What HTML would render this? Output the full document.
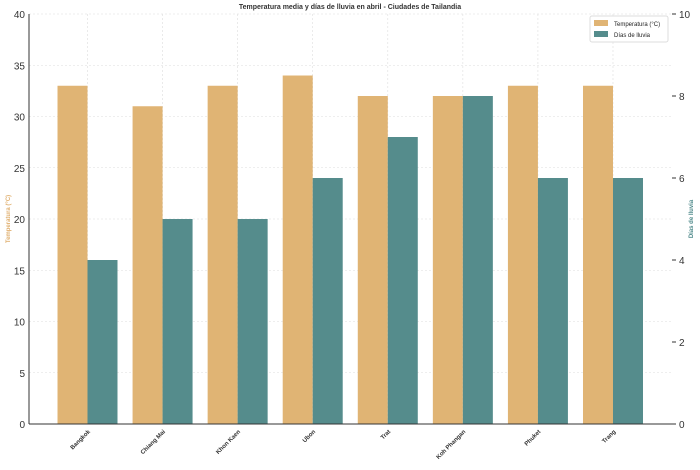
<!DOCTYPE html>
<html><head><meta charset="utf-8"><style>
body{margin:0;background:#fff}
svg text{font-family:"Liberation Sans",sans-serif}
</style></head><body>
<svg id="c" width="700" height="465">
<g id="grid"></g><g id="bars"></g><g id="axes"></g>
<text x="350" y="9" text-anchor="middle" font-size="7" font-weight="bold" fill="#333">Temperatura media y días de lluvia en abril - Ciudades de Tailandia</text>
<text transform="translate(10,219) rotate(-90)" text-anchor="middle" font-size="6" font-weight="bold" fill="#e0b070">Temperatura (°C)</text>
<text transform="translate(693,219) rotate(-90)" text-anchor="middle" font-size="6" font-weight="bold" fill="#4f8a8b">Días de lluvia</text>
<g>
<rect x="590" y="16" width="78" height="26" fill="#fff" stroke="#ddd" rx="2"/>
<rect x="594" y="20" width="14" height="6" fill="#e0b474"/>
<text x="614" y="26" font-size="6" fill="#222">Temperatura (°C)</text>
<rect x="594" y="31" width="14" height="6" fill="#558c8c"/>
<text x="614" y="37" font-size="6" fill="#222">Días de lluvia</text>
</g>
</svg>
<script>
const categories=["Bangkok","Chiang Mai","Khon Kaen","Ubon","Trat","Koh Phangan","Phuket","Trang"];
const temps=[33,31,33,34,32,32,33,33];
const rainDays=[4,5,5,6,7,8,6,6];
const leftTicks=[0,5,10,15,20,25,30,35,40];
const rightTicks=[0,2,4,6,8,10];
const NS="http://www.w3.org/2000/svg";
const L=29,R=672,T=14,B=424;
const yL=v=>B-(v/40)*(B-T);
const yR=v=>B-(v/10)*(B-T);
const xC=i=>87.5+i*75.07;
const bw=30;
function mk(tag,attrs,parent){const e=document.createElementNS(NS,tag);for(const k in attrs)e.setAttribute(k,attrs[k]);parent.appendChild(e);return e;}
const g=document.getElementById('grid'),bars=document.getElementById('bars'),ax=document.getElementById('axes');
leftTicks.forEach(v=>{
  const l=mk('line',{x1:L,x2:R,y1:yL(v),y2:yL(v),stroke:'#ddd','stroke-dasharray':'2,2','stroke-width':0.6},g);
  
  
  const t=mk('text',{x:L-4,y:yL(v)+4,'text-anchor':'end','font-size':10,fill:'#333'},ax);
  t.textContent=v;
  
  
});
rightTicks.forEach(v=>{
  mk('line',{x1:R,x2:R+4,y1:yR(v),y2:yR(v),stroke:'#333'},ax);
  const t=mk('text',{x:R+7,y:yR(v)+4,'font-size':10,fill:'#333'},ax);
  t.textContent=v;
  
  
});
categories.forEach((c,i)=>{
  const x=xC(i);
  mk('line',{x1:x,x2:x,y1:T,y2:B,stroke:'#ddd','stroke-dasharray':'2,2','stroke-width':0.6},g);
  const b1=mk('rect',{x:x-bw,y:yL(temps[i]),width:bw,height:B-yL(temps[i]),fill:'#e0b474'},bars);
  
  
  const b2=mk('rect',{x:x,y:yR(rainDays[i]),width:bw,height:B-yR(rainDays[i]),fill:'#558c8c'},bars);
  
  
  const t=mk('text',{transform:`translate(${x+3},${B+8}) rotate(-45)`,'text-anchor':'end','font-size':6,'font-weight':'bold',fill:'#333'},ax);
  t.textContent=c;
  
  
});
mk('line',{x1:L,x2:L,y1:T,y2:B,stroke:'#333','stroke-width':1},ax);
mk('line',{x1:L,x2:R,y1:B,y2:B,stroke:'#333','stroke-width':1},ax);
</script>
</body></html>
